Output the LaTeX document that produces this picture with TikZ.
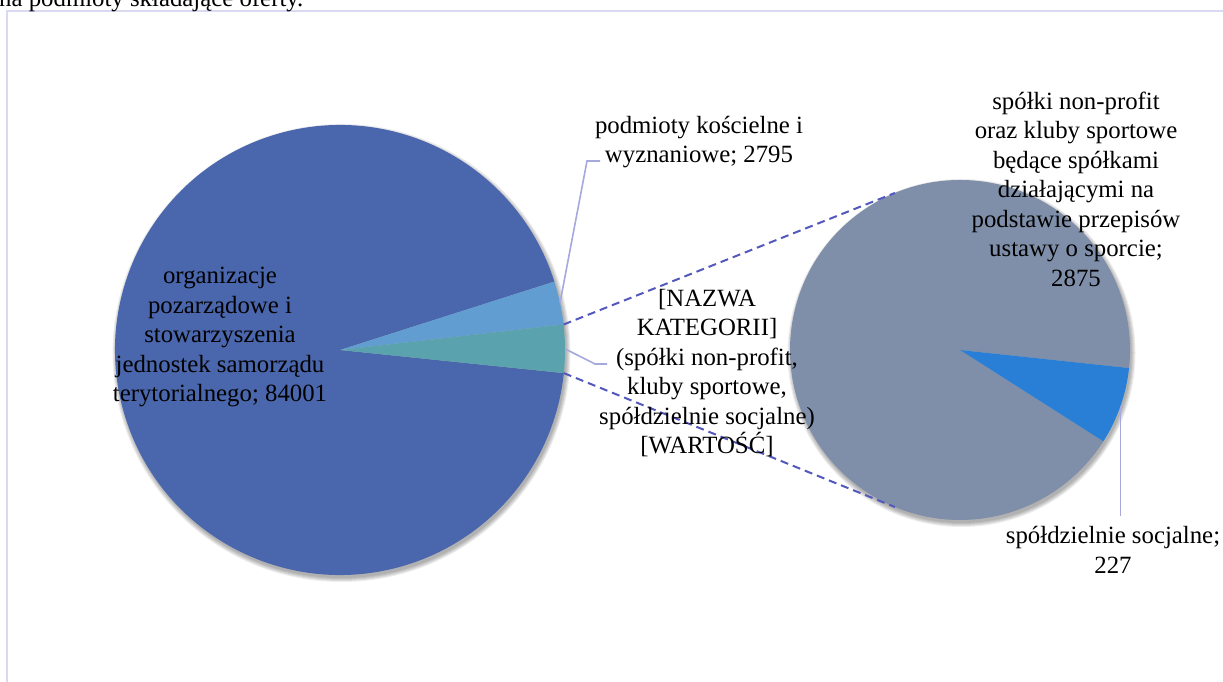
\documentclass[tikz,border=0pt]{standalone}
\usepackage{fontspec}
\setmainfont{Liberation Serif}
\usetikzlibrary{calc}
\definecolor{cdark}{HTML}{4A66AC}
\definecolor{clight}{HTML}{629DD1}
\definecolor{cteal}{HTML}{5AA2AE}
\definecolor{cgrey}{HTML}{7F8FA9}
\definecolor{cblue}{HTML}{297FD5}
\definecolor{cframe}{HTML}{D9D9F2}
\definecolor{cdash}{HTML}{5258BC}
\definecolor{clead}{HTML}{A6A8DE}
\tikzset{
  lbl/.style={align=center, inner sep=0pt, font=\fontsize{24.8}{29.5}\selectfont},
  connline/.style={draw=cdash, line width=2pt, dash pattern=on 8pt off 5pt},
  leadline/.style={draw=clead, line width=1.6pt},
  pieshadow/.style={fill=black, opacity=0.07}
}
\begin{document}
\begin{tikzpicture}[x=1pt,y=1pt]
\useasboundingbox (0,0) rectangle (1223,682);
% frame
\draw[cframe, line width=2.2pt] (7,-20) -- (7,671) -- (1240,671);
% top cut-off caption
\node[lbl, anchor=base west] (cap) at (-1,675.5) {na podmioty składające oferty.};
% centres
\coordinate (L) at (340,332);
\coordinate (R) at (960,332);
% shadows
\foreach \d in {1,2,3,4,5} {
  \fill[pieshadow] ($(L)+(1.5,-3)$) circle ({224+\d});
  \fill[pieshadow] ($(R)+(1.5,-3)$) circle ({169+\d});
}
% left pie
\fill[cdark] (L) -- ($(L)+(17.7:225)$) arc[start angle=17.7, end angle=354.1, radius=225] -- cycle;
\fill[clight] (L) -- ($(L)+(6.5:225)$) arc[start angle=6.5, end angle=17.7, radius=225] -- cycle;
\fill[cteal] (L) -- ($(L)+(-5.9:225)$) arc[start angle=-5.9, end angle=6.5, radius=225] -- cycle;
% right pie
\fill[cgrey] (R) -- ($(R)+(-6.1:170)$) arc[start angle=-6.1, end angle=327.5, radius=170] -- cycle;
\fill[cblue] (R) -- ($(R)+(-32.5:170)$) arc[start angle=-32.5, end angle=-6.1, radius=170] -- cycle;
% connector points
\coordinate (la) at ($(L)+(6.5:225)$);
\coordinate (lb) at ($(L)+(-5.9:225)$);
\coordinate (ra) at ($(R)+(112.5:170)$);
\coordinate (rb) at ($(R)+(-112.5:170)$);
\draw[connline] (la) -- (ra);
\draw[connline] (lb) -- (rb);
% leader lines
\coordinate (p1) at ($(L)+(12.1:225)$);
\coordinate (p1a) at (587,521);
\coordinate (p1b) at (600,521);
\draw[leadline] (p1) -- (p1a) -- (p1b);
\coordinate (p2) at ($(L)+(0.3:225)$);
\coordinate (p2a) at (595,318);
\coordinate (p2b) at (607,318);
\draw[leadline] (p2) -- (p2a) -- (p2b);
\coordinate (p3) at ($(R)+(-19.3:170)$);
\coordinate (p3a) at ($(p3)+(0,-110)$);
\draw[leadline] (p3) -- (p3a);
% labels
\node[lbl] (torg) at (220,345) {organizacje\\pozarządowe i\\stowarzyszenia\\jednostek samorządu\\terytorialnego; 84001};
\node[lbl] (tkos) at (699,540) {podmioty kościelne i\\wyznaniowe; 2795};
\node[lbl] (tkat) at (707,309) {{[}NAZWA\\KATEGORII{]}\\(spółki non-profit,\\kluby sportowe,\\spółdzielnie socjalne)\\{[}WARTOŚĆ{]}};
\node[lbl] (tspo) at (1076,493) {spółki non-profit\\oraz kluby sportowe\\będące spółkami\\działającymi na\\podstawie przepisów\\ustawy o sporcie;\\2875};
\node[lbl] (tsoc) at (1113,132) {spółdzielnie socjalne;\\227};
\end{tikzpicture}
\end{document}
